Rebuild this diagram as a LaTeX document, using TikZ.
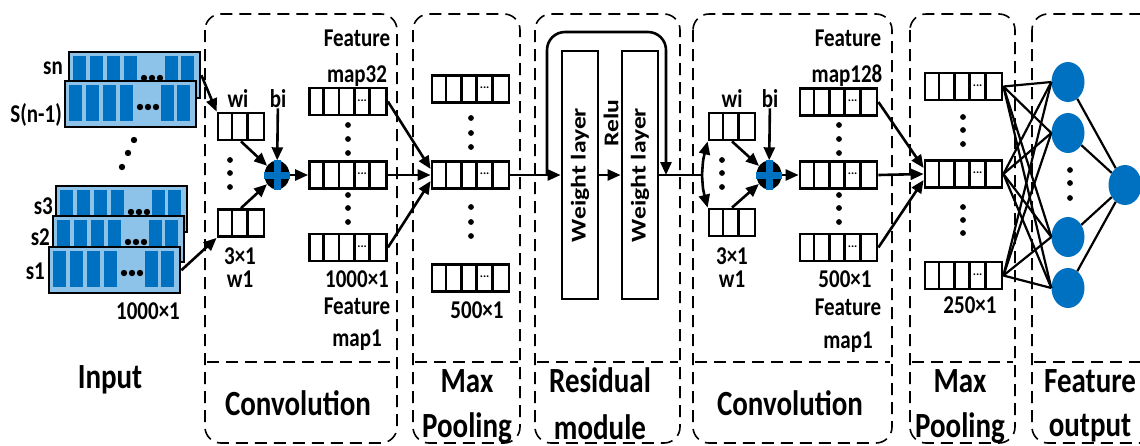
\documentclass[tikz,border=0pt]{standalone}
\usepackage{fontspec}
\setmainfont{Carlito}
\usepackage{graphicx}
\usetikzlibrary{arrows.meta,calc,shapes.geometric}
\definecolor{lightblue}{RGB}{141,195,232}
\definecolor{barblue}{RGB}{0,112,192}
\newcommand{\tallt}[1]{\scalebox{1}[1.22]{#1}}
\tikzset{
  panel/.style={dash pattern=on 12pt off 7pt, line width=1.6pt, rounded corners=16pt},
  sigframe/.style={draw, line width=2.4pt, fill=lightblue, minimum width=131pt, minimum height=46pt, inner sep=0pt},
  mapbox/.style={draw, line width=2.8pt, minimum width=77pt, minimum height=27pt, inner sep=0pt},
  kernbox/.style={draw, line width=2.8pt, minimum width=46pt, minimum height=27pt, inner sep=0pt},
  wlayer/.style={draw, line width=2.8pt, minimum width=36pt, minimum height=248pt, inner sep=0pt},
  neuron/.style={ellipse, fill=barblue, minimum width=33pt, minimum height=40pt, inner sep=0pt},
  sumnode/.style={ellipse, fill=black, minimum width=25pt, minimum height=29pt, inner sep=0pt},
  arr/.style={line width=2.6pt, -{Triangle[length=13pt,width=11pt]}},
  link/.style={line width=2.2pt},
  small/.style={font=\fontsize{21}{21}\selectfont\bfseries, inner sep=0pt},
  big/.style={font=\fontsize{29}{29}\selectfont\bfseries, inner sep=0pt},
}
% input signal box: name, x, y (top left)
\newcommand{\sigbox}[3]{%
  \node[sigframe, anchor=north west] (#1) at (#2,#3) {};
  \foreach \bx in {5,22,39,56,97,113}
    \fill[barblue] ($(#1.north west)+(\bx,5)$) rectangle ++(13,36);
  \foreach \dx in {-8,0,8}
    \fill ($(#1.north west)+(84+\dx,27)$) circle (3.2);
}
% feature map with 5 cells
\newcommand{\fmap}[3]{%
  \node[mapbox] (#1) at (#2,#3) {};
  \foreach \k in {1,2,3,4}
    \draw[line width=2.8pt] ($(#1.north west)+(\k*15.4,0)$) -- ++(0,27);
  \node[font=\fontsize{12}{12}\selectfont\bfseries, inner sep=0pt] (#1d) at ($(#1.north west)+(54,14)$) {...};
}
% kernel with 3 cells
\newcommand{\kbox}[3]{%
  \node[kernbox] (#1) at (#2,#3) {};
  \foreach \k in {1,2}
    \draw[line width=2.8pt] ($(#1.north west)+(\k*15.33,0)$) -- ++(0,27);
}
% summation node
\newcommand{\sumplus}[3]{%
  \node[sumnode] (#1) at (#2,#3) {};
  \draw[barblue, line width=7pt] (#1.north) -- (#1.south) (#1.west) -- (#1.east);
}
\newcommand{\dotcol}[4]{\foreach \dy in {#2,#3,#4} \fill (#1,\dy) circle (2.9);}

\begin{document}
\begin{tikzpicture}[x=1pt,y=-1pt]
\useasboundingbox (0,0) rectangle (1140,445);
% Panels
\draw[panel] (205,14) rectangle (397,443);
\draw[panel] (207,362) -- (395,362);
\draw[panel] (413,14) rectangle (520,443);
\draw[panel] (415,362) -- (518,362);
\draw[panel] (535,14) rectangle (680,443);
\draw[panel] (537,362) -- (678,362);
\draw[panel] (693,14) rectangle (892,443);
\draw[panel] (695,362) -- (890,362);
\draw[panel] (910,14) rectangle (1015,443);
\draw[panel] (912,362) -- (1013,362);
\draw[panel] (1032,14) rectangle (1170,443);
\draw[panel] (1034,362) -- (1168,362);

% Input
\sigbox{sn}{68}{51}
\sigbox{snm}{64}{80}
\sigbox{sthree}{55}{185}
\sigbox{stwo}{52}{215}
\sigbox{sone}{48}{246}
\node[small, anchor=east] (lsn) at (63,68) {\tallt{sn}};
\node[small, anchor=east] (lsnm) at (62,115) {\tallt{S(n-1)}};
\node[small, anchor=east] (lsthree) at (53,206) {\tallt{s3}};
\node[small, anchor=east] (lstwo) at (50,237) {\tallt{s2}};
\node[small, anchor=east] (lsone) at (45,271) {\tallt{s1}};
\fill (134,140) circle (3.2) (128,153) circle (3.2) (122,167) circle (3.2);
\node[small] (lin) at (148,311) {\tallt{1000×1}};
\node[big] (tin) at (110,380) {\tallt{Input}};

% Convolution 1
\kbox{wa}{241}{126.5}
\kbox{wb}{241}{223}
\dotcol{230}{160}{173}{187}
\node[small] (lwa) at (238,99) {\tallt{wi}};
\node[small] (lba) at (278,99) {\tallt{bi}};
\node[small] (lka) at (240,256) {\tallt{3×1}};
\node[small] (lwb) at (240,279) {\tallt{w1}};
\sumplus{sa}{277}{175}
\fmap{fa1}{348}{101.5}
\fmap{fa2}{348}{175}
\fmap{fa3}{348}{247.5}
\dotcol{348}{125}{139}{153}
\dotcol{348}{195}{208}{222}
\node[small] (lfa1) at (357,38) {\tallt{Feature}};
\node[small] (lfa2) at (357,76) {\tallt{map32}};
\node[small] (lfa3) at (357,279) {\tallt{1000×1}};
\node[small] (lfa4) at (357,306) {\tallt{Feature}};
\node[small] (lfa5) at (357,340) {\tallt{map1}};
\node[big] (tca) at (298,403) {\tallt{Convolution}};
\draw[arr] (sn.east) -- (wa.north west);
\draw[arr] (sone.east) -- (wb.south west);
\draw[arr] (wa.south) -- (sa);
\draw[arr] (wb.north) -- (sa);
\draw[arr] (lba) -- (sa);
\draw[arr] (sa) -- (fa2.west);

% Max pooling 1
\fmap{pa1}{470.5}{89}
\fmap{pa2}{470.5}{175}
\fmap{pa3}{470.5}{278}
\dotcol{471}{118}{133}{147}
\dotcol{471}{207}{222}{236}
\node[small] (lpa) at (477,310) {\tallt{500×1}};
\node[big] (tpa1) at (467,381) {\tallt{Max}};
\node[big] (tpa2) at (467,428) {\tallt{Pooling}};
\draw[arr] (fa1.east) -- ($(pa2.west)+(0,-6)$);
\draw[arr] (fa2.east) -- (pa2.west);
\draw[arr] (fa3.east) -- ($(pa2.west)+(0,6)$);

% Residual module
\node[wlayer] (wl1) at (580,175) {\rotatebox{90}{\fontsize{21}{21}\selectfont\bfseries\scalebox{1.22}[1]{Weight layer}}};
\node[wlayer] (wl2) at (640,175) {\rotatebox{90}{\fontsize{21}{21}\selectfont\bfseries\scalebox{1.22}[1]{Weight layer}}};
\node[small] (lrelu) at (611,123) {\rotatebox{90}{\scalebox{1.22}[1]{Relu}}};
\node[big] (tres1) at (600,380) {\tallt{Residual}};
\node[big] (tres2) at (600,427) {\tallt{module}};
\coordinate (skipin) at (547,175);
\coordinate (skipout) at (666,175);
\draw[arr] (pa2.east) -- (wl1.west);
\draw[arr] (wl1.east) -- (wl2.west);
\draw[arr, rounded corners=18pt] (skipin) -- ++(0,-143) -| (skipout);

% Convolution 2
\coordinate (br) at (702,175);
\kbox{wc}{732}{126.5}
\kbox{wd}{732}{222.5}
\dotcol{722}{160}{173}{187}
\node[small] (lwc) at (732,99) {\tallt{wi}};
\node[small] (lbc) at (770,99) {\tallt{bi}};
\node[small] (lkc) at (732,256) {\tallt{3×1}};
\node[small] (lwd) at (732,279) {\tallt{w1}};
\sumplus{sb}{769}{175}
\fmap{fb1}{838.5}{102}
\fmap{fb2}{838.5}{175}
\fmap{fb3}{838.5}{247.5}
\dotcol{839}{125}{139}{153}
\dotcol{839}{195}{208}{222}
\node[small] (lfb1) at (848,38) {\tallt{Feature}};
\node[small] (lfb2) at (847,76) {\tallt{map128}};
\node[small] (lfb3) at (845,279) {\tallt{500×1}};
\node[small] (lfb4) at (848,307) {\tallt{Feature}};
\node[small] (lfb5) at (848,342) {\tallt{map1}};
\node[big] (tcb) at (790,403) {\tallt{Convolution}};
\draw[link] (wl2.east) -- (br);
\draw[arr] (br) .. controls (703,160) .. (wc.south west);
\draw[arr] (br) .. controls (703,190) .. (wd.north west);
\draw[arr] (wc.south) -- (sb);
\draw[arr] (wd.north) -- (sb);
\draw[arr] (lbc) -- (sb);
\draw[arr] (sb) -- (fb2.west);

% Max pooling 2
\fmap{pb1}{963.5}{86.5}
\fmap{pb2}{963.5}{174}
\fmap{pb3}{963.5}{275.5}
\dotcol{963}{117}{130}{144}
\dotcol{963}{207}{220}{233}
\node[small] (lpb) at (970,305) {\tallt{250×1}};
\node[big] (tpb1) at (960,381) {\tallt{Max}};
\node[big] (tpb2) at (960,428) {\tallt{Pooling}};
\draw[arr] (fb1.east) -- ($(pb2.west)+(0,-6)$);
\draw[arr] (fb2.east) -- (pb2.west);
\draw[arr] (fb3.east) -- ($(pb2.west)+(0,6)$);

% Feature output
\node[neuron] (n1) at (1068,82) {};
\node[neuron] (n2) at (1068,133) {};
\node[neuron] (n3) at (1068,237) {};
\node[neuron] (n4) at (1068,288) {};
\node[neuron] (nout) at (1125,185) {};
\dotcol{1070}{170}{183}{198}
\foreach \a in {pb1,pb2,pb3}
  \foreach \b in {n1,n2,n3,n4}
    \draw[link] (\a.east) -- (\b.west);
\foreach \b in {n1,n2,n3,n4}
  \draw[link] (\b) -- (nout);
\node[big] (tfo1) at (1090,381) {\tallt{Feature}};
\node[big] (tfo2) at (1090,428) {\tallt{output}};
\end{tikzpicture}
\end{document}
